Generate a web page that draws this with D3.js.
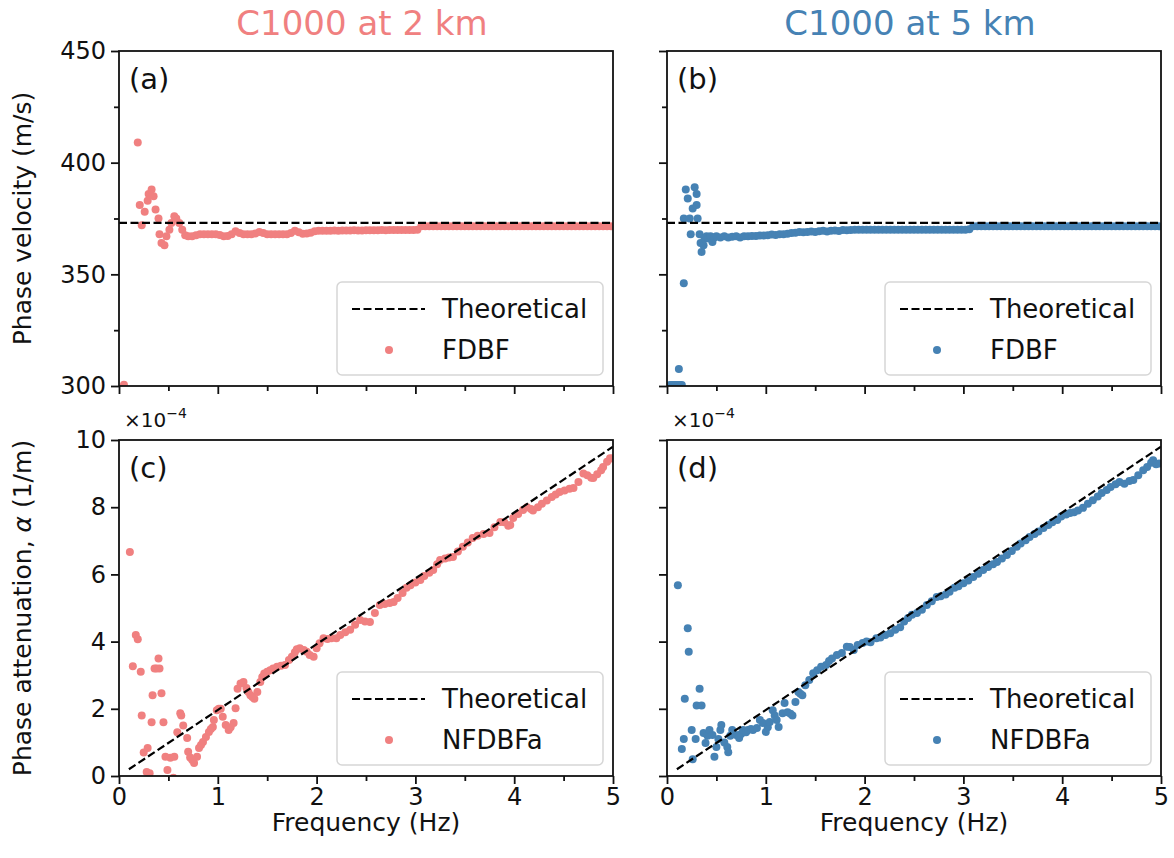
<!DOCTYPE html>
<html>
<head>
<meta charset="utf-8">
<script src="https://cdn.jsdelivr.net/npm/d3@7/dist/d3.min.js"></script>
<style>
  body { margin: 0; background: #fff; }
  svg { font-family: "DejaVu Sans", sans-serif; }
</style>
</head>
<body>
<svg id="fig" width="1174" height="858"></svg>
<script>
// ---- data ----
// phase velocity (m/s), FDBF, [frequency Hz, value]
const fdbf2km = [
  [0.05,300.6],[0.19,409],[0.21,381],[0.23,372],[0.26,378],[0.29,383],[0.30,386],[0.33,388],
  [0.35,385],[0.37,379],[0.40,375],[0.41,368],[0.43,364],[0.46,363],[0.48,367],[0.51,370],
  [0.53,373],[0.56,376],[0.58,375],[0.61,373],[0.64,370],[0.67,367.5],[0.70,367],[0.74,367],
  [0.78,367.5],[0.82,368],[0.86,368],[0.90,368],[0.94,368],[0.98,368],[1.02,367.6],[1.06,367],
  [1.10,367.2],[1.14,368],[1.18,369.3],[1.22,368.5],[1.26,368],[1.30,368],[1.34,368],[1.38,368.3],
  [1.42,369],[1.46,368.5],[1.50,368],[1.54,368],[1.58,368],[1.62,368],[1.66,368],[1.70,368],
  [1.74,368.5],[1.78,369.5],[1.82,368.8],[1.86,368.2],[1.90,368.3],[1.94,368.6],[1.98,369.3],
  [2.02,369.5],[2.06,369.5],[2.10,369.5],[2.14,369.5],[2.18,369.6],[2.22,369.5],[2.26,369.6],
  [2.30,369.6],[2.34,369.6],[2.38,369.7],[2.42,369.6],[2.46,369.6],[2.50,369.7],[2.54,369.7],
  [2.58,369.7],[2.62,369.7],[2.66,369.8],[2.70,369.7],[2.74,369.8],[2.78,369.8],[2.82,369.8],
  [2.86,369.8],[2.90,369.9],[2.94,369.9],[2.98,369.9],[3.02,370],[3.06,371.5],[3.10,371.5],
  [3.14,371.5],[3.18,371.5],[3.22,371.5],[3.26,371.5],[3.30,371.5],[3.34,371.5],[3.38,371.5],
  [3.42,371.5],[3.46,371.5],[3.50,371.5],[3.54,371.5],[3.58,371.5],[3.62,371.5],[3.66,371.5],
  [3.70,371.5],[3.74,371.5],[3.78,371.5],[3.82,371.5],[3.86,371.5],[3.90,371.5],[3.94,371.5],
  [3.98,371.5],[4.02,371.5],[4.06,371.5],[4.10,371.5],[4.14,371.5],[4.18,371.5],[4.22,371.5],
  [4.26,371.5],[4.30,371.5],[4.34,371.5],[4.38,371.5],[4.42,371.5],[4.46,371.5],[4.50,371.5],
  [4.54,371.5],[4.58,371.5],[4.62,371.5],[4.66,371.5],[4.70,371.5],[4.74,371.5],[4.78,371.5],
  [4.82,371.5],[4.86,371.5],[4.90,371.5],[4.94,371.5],[4.98,371.5]
];
const fdbf5km = [
  [0.03,300.4],[0.05,300.4],[0.07,300.4],[0.09,300.4],[0.11,300.4],[0.13,300.4],[0.15,300.4],
  [0.12,307.6],[0.17,346],[0.17,375],[0.19,388],[0.21,384],[0.23,375],[0.24,368],[0.26,379.5],
  [0.28,389],[0.30,386],[0.30,381],[0.31,375],[0.33,368],[0.34,364],[0.35,360],[0.37,363],
  [0.38,366],[0.40,367],[0.42,366],[0.44,367],[0.46,364.5],[0.48,366.5],[0.50,367],[0.54,366.5],
  [0.58,367],[0.62,366.5],[0.66,366.8],[0.70,367],[0.74,366.5],[0.78,367],[0.82,367],[0.86,367.2],
  [0.90,367.2],[0.94,367.4],[0.98,367.4],[1.02,367.5],[1.06,367.8],[1.10,367.6],[1.14,367.9],
  [1.18,368],[1.22,368.2],[1.26,368.5],[1.30,368.6],[1.34,369],[1.38,368.8],[1.42,369],[1.46,369.2],
  [1.50,369],[1.54,369.3],[1.58,369.5],[1.62,369.2],[1.66,369.5],[1.70,369.6],[1.74,369.4],
  [1.78,369.8],[1.82,369.7],[1.86,369.8],[1.90,370],[1.94,370],[1.98,370],[2.02,370],[2.06,370],
  [2.10,370],[2.14,370],[2.18,370],[2.22,370],[2.26,370],[2.30,370],[2.34,370],[2.38,370],
  [2.42,370],[2.46,370],[2.50,370],[2.54,370],[2.58,370],[2.62,370],[2.66,370],[2.70,370],
  [2.74,370],[2.78,370],[2.82,370],[2.86,370],[2.90,370],[2.94,370],[2.98,370],[3.02,370],
  [3.06,370.2],[3.10,371.5],[3.14,371.5],[3.18,371.5],[3.22,371.5],[3.26,371.5],[3.30,371.5],
  [3.34,371.5],[3.38,371.5],[3.42,371.5],[3.46,371.5],[3.50,371.5],[3.54,371.5],[3.58,371.5],
  [3.62,371.5],[3.66,371.5],[3.70,371.5],[3.74,371.5],[3.78,371.5],[3.82,371.5],[3.86,371.5],
  [3.90,371.5],[3.94,371.5],[3.98,371.5],[4.02,371.5],[4.06,371.5],[4.10,371.5],[4.14,371.5],
  [4.18,371.5],[4.22,371.5],[4.26,371.5],[4.30,371.5],[4.34,371.5],[4.38,371.5],[4.42,371.5],
  [4.46,371.5],[4.50,371.5],[4.54,371.5],[4.58,371.5],[4.62,371.5],[4.66,371.5],[4.70,371.5],
  [4.74,371.5],[4.78,371.5],[4.82,371.5],[4.86,371.5],[4.90,371.5],[4.94,371.5],[4.98,371.5]
];
// phase attenuation, NFDBFa, in units of 1e-4 1/m
const nfdbfa2km = [
  [0.11,6.67],[0.14,3.27],[0.17,4.2],[0.19,4.07],[0.22,3.1],[0.23,1.8],[0.25,0.7],[0.28,0.12],
  [0.29,0.83],[0.31,0.08],[0.33,1.6],[0.34,2.4],[0.36,3.2],[0.38,3.2],[0.40,3.5],[0.41,3.2],
  [0.43,2.46],[0.45,1.6],[0.47,0.57],[0.49,0.18],[0.52,0.54],[0.55,-0.05],[0.56,0.57],[0.59,1.3],
  [0.62,1.87],[0.63,1.8],[0.65,1.5],[0.69,1.13],[0.70,0.72],[0.72,0.55],[0.74,0.48],[0.76,0.39],
  [0.79,0.57],[0.81,0.83],[0.83,0.92],[0.85,1.01],[0.88,1.16],[0.91,1.31],[0.93,1.4],[0.95,1.46],
  [0.96,1.67],[0.99,1.96],[1.01,2.0],[1.03,2.0],[1.05,1.76],[1.08,1.52],[1.11,1.37],[1.13,1.45],
  [1.16,1.58],[1.18,2.02],[1.20,2.6],[1.23,2.75],[1.26,2.8],[1.29,2.62],[1.31,2.5],[1.33,2.4],
  [1.35,2.35],[1.37,2.3],[1.40,2.5],[1.43,2.8],[1.45,2.95],[1.47,3.05],[1.50,3.1],[1.53,3.15],
  [1.56,3.2],[1.60,3.25],[1.64,3.28],[1.68,3.3],[1.72,3.45],[1.75,3.55],[1.78,3.68],[1.80,3.77],
  [1.83,3.8],[1.87,3.75],[1.90,3.7],[1.93,3.6],[1.97,3.55],[2.00,3.8],[2.03,3.95],[2.07,4.1],
  [2.11,4.08],[2.15,4.1],[2.20,4.1],[2.24,4.2],[2.29,4.28],[2.34,4.35],[2.39,4.5],[2.44,4.64],
  [2.49,4.6],[2.54,4.58],[2.59,4.85],[2.64,5.09],[2.69,5.12],[2.74,5.15],[2.78,5.18],[2.82,5.3],
  [2.87,5.45],[2.91,5.6],[2.95,5.68],[3.00,5.76],[3.05,5.83],[3.09,5.95],[3.14,6.05],[3.18,6.13],
  [3.22,6.3],[3.25,6.43],[3.30,6.47],[3.34,6.5],[3.38,6.52],[3.43,6.68],[3.48,6.82],[3.53,6.95],
  [3.58,7.08],[3.63,7.15],[3.69,7.2],[3.75,7.23],[3.80,7.4],[3.86,7.56],[3.90,7.55],[3.94,7.45],
  [3.96,7.47],[3.99,7.68],[4.04,7.8],[4.09,7.92],[4.13,8.0],[4.17,7.95],[4.19,7.9],[4.24,8.0],
  [4.28,8.1],[4.33,8.2],[4.38,8.3],[4.42,8.38],[4.46,8.45],[4.51,8.5],[4.56,8.55],[4.60,8.57],
  [4.65,8.75],[4.70,9.0],[4.74,8.95],[4.78,8.88],[4.80,8.87],[4.84,8.98],[4.88,9.1],[4.90,9.2],
  [4.94,9.35],[4.97,9.46],[4.99,9.45]
];
const nfdbfa5km = [
  [0.11,5.68],[0.15,0.8],[0.17,1.1],[0.18,2.3],[0.21,4.4],[0.22,3.7],[0.25,1.37],[0.26,0.5],
  [0.29,1.1],[0.30,2.1],[0.33,2.6],[0.35,2.1],[0.37,1.28],[0.39,0.98],[0.41,1.2],[0.43,1.37],
  [0.46,1.22],[0.48,0.57],[0.50,0.86],[0.52,1.1],[0.54,1.37],[0.55,1.52],[0.58,1.0],[0.61,0.86],
  [0.62,0.71],[0.64,1.2],[0.66,1.37],[0.70,1.22],[0.73,1.13],[0.75,1.25],[0.77,1.37],[0.80,1.3],
  [0.82,1.37],[0.85,1.4],[0.87,1.37],[0.91,1.43],[0.94,1.67],[0.97,1.58],[1.00,1.31],[1.02,1.45],
  [1.04,1.61],[1.07,1.96],[1.09,1.8],[1.11,1.67],[1.13,1.46],[1.17,1.87],[1.19,2.17],[1.22,1.9],
  [1.25,1.85],[1.27,1.8],[1.30,2.2],[1.33,2.5],[1.35,2.45],[1.37,2.4],[1.40,2.7],[1.44,2.86],
  [1.48,3.06],[1.52,3.15],[1.56,3.25],[1.61,3.3],[1.64,3.42],[1.67,3.5],[1.72,3.6],[1.77,3.66],
  [1.82,3.85],[1.85,3.84],[1.89,3.75],[1.93,3.9],[1.98,3.96],[2.02,4.0],[2.06,3.98],[2.12,4.1],
  [2.16,4.12],[2.21,4.2],[2.26,4.25],[2.31,4.35],[2.36,4.43],[2.40,4.6],[2.44,4.7],[2.48,4.8],
  [2.53,4.85],[2.58,4.95],[2.63,5.09],[2.68,5.2],[2.73,5.33],[2.77,5.35],[2.82,5.4],[2.86,5.48],
  [2.91,5.6],[2.95,5.65],[3.00,5.74],[3.05,5.82],[3.10,5.92],[3.15,6.02],[3.20,6.13],[3.25,6.22],
  [3.30,6.3],[3.34,6.37],[3.39,6.47],[3.44,6.58],[3.49,6.7],[3.54,6.82],[3.58,6.92],[3.63,7.02],
  [3.67,7.11],[3.72,7.2],[3.76,7.28],[3.81,7.38],[3.86,7.47],[3.90,7.55],[3.95,7.62],[3.99,7.72],
  [4.04,7.78],[4.08,7.83],[4.12,7.85],[4.16,7.9],[4.21,7.98],[4.26,8.1],[4.31,8.21],[4.36,8.32],
  [4.40,8.42],[4.45,8.51],[4.49,8.6],[4.54,8.68],[4.58,8.75],[4.63,8.7],[4.68,8.78],[4.72,8.81],
  [4.77,8.95],[4.82,9.1],[4.86,9.2],[4.90,9.32],[4.92,9.4],[4.95,9.28],[4.98,9.3]
];
// theoretical curves
const theoVel = [[0, 373], [5, 373]];
const theoAtt = [[0.1, 0.2], [5, 9.8]];

// tick values
const freqTicks = [0, 1, 2, 3, 4, 5];
const freqMinor = [0.5, 1.5, 2.5, 3.5, 4.5];
const velTicks = [300, 350, 400, 450];
const velMinor = [325, 375, 425];
const attTicks = [0, 2, 4, 6, 8, 10];

const titles = ['C1000 at 2 km', 'C1000 at 5 km'];
const colors = ['#f08080', '#4682b4'];

// ---- layout ----
const svg = d3.select('#fig');
svg.append('rect').attr('width', 1174).attr('height', 858).attr('fill', '#fff');

const colX = [[119, 613], [667, 1161]];
const rowVel = [386, 51],
  rowAtt = [776, 440];
const ink = '#111';
const tickFont = 24;
const labelFont = 25;

const panels = [
  { id: 'a', col: 0, row: 'vel', data: fdbf2km, theo: theoVel, name: 'FDBF' },
  { id: 'b', col: 1, row: 'vel', data: fdbf5km, theo: theoVel, name: 'FDBF' },
  { id: 'c', col: 0, row: 'att', data: nfdbfa2km, theo: theoAtt, name: 'NFDBFa' },
  { id: 'd', col: 1, row: 'att', data: nfdbfa5km, theo: theoAtt, name: 'NFDBFa' },
];

const defs = svg.append('defs');

panels.forEach((p) => {
  const x = d3.scaleLinear().domain([0, 5]).range(colX[p.col]);
  const y =
    p.row === 'vel'
      ? d3.scaleLinear().domain([300, 450]).range(rowVel)
      : d3.scaleLinear().domain([0, 10]).range(rowAtt);
  const [x0, x1] = x.range();
  const [y0, y1] = y.range(); // y0 bottom, y1 top
  const g = svg.append('g');

  defs
    .append('clipPath')
    .attr('id', `clip-${p.id}`)
    .append('rect')
    .attr('x', x0)
    .attr('y', y1)
    .attr('width', x1 - x0)
    .attr('height', y0 - y1);

  const plot = g.append('g').attr('clip-path', `url(#clip-${p.id})`);

  // points
  plot
    .selectAll('circle')
    .data(p.data)
    .join('circle')
    .attr('cx', (d) => x(d[0]))
    .attr('cy', (d) => y(d[1]))
    .attr('r', 4)
    .attr('fill', colors[p.col]);

  // theoretical
  plot
    .append('path')
    .attr('d', d3.line().x((d) => x(d[0])).y((d) => y(d[1]))(p.theo))
    .attr('fill', 'none')
    .attr('stroke', '#000')
    .attr('stroke-width', 2.2)
    .attr('stroke-dasharray', '8,3.5');

  // axes
  const showX = p.row === 'att';
  const showY = p.col === 0;
  const xAxis = d3
    .axisBottom(x)
    .tickValues(freqTicks)
    .tickSize(8)
    .tickPadding(4)
    .tickFormat(showX ? d3.format('d') : '');
  const xMinor = d3.axisBottom(x).tickValues(freqMinor).tickSize(5).tickFormat('');
  const yAxis = d3
    .axisLeft(y)
    .tickValues(p.row === 'vel' ? velTicks : attTicks)
    .tickSize(8)
    .tickPadding(5)
    .tickFormat(showY ? d3.format('d') : '');

  [
    g.append('g').attr('transform', `translate(0,${y0})`).call(xAxis),
    g.append('g').attr('transform', `translate(0,${y0})`).call(xMinor),
    g.append('g').attr('transform', `translate(${x0},0)`).call(yAxis),
  ].forEach((a) => a.call(styleAxis));
  if (p.row === 'vel') {
    g.append('g')
      .attr('transform', `translate(${x0},0)`)
      .call(d3.axisLeft(y).tickValues(velMinor).tickSize(5).tickFormat(''))
      .call(styleAxis);
  }

  // frame
  g.append('rect')
    .attr('x', x0)
    .attr('y', y1)
    .attr('width', x1 - x0)
    .attr('height', y0 - y1)
    .attr('fill', 'none')
    .attr('stroke', ink)
    .attr('stroke-width', 1.8);

  // panel tag
  g.append('text')
    .attr('x', x0 + 10)
    .attr('y', y1 + 38)
    .attr('font-size', 29)
    .attr('fill', ink)
    .text(`(${p.id})`);

  // offset text
  if (p.row === 'att') {
    const t = g
      .append('text')
      .attr('x', x0 + 5)
      .attr('y', y1 - 13)
      .attr('font-size', 20)
      .attr('fill', ink);
    t.append('tspan').text('×10');
    t.append('tspan').attr('font-size', 14).attr('dy', -9).text('−4');
  }

  // legend
  const lx = x1 - 276,
    ly = y0 - 104;
  const lg = g.append('g').attr('transform', `translate(${lx},${ly})`);
  lg.append('rect')
    .attr('width', 266)
    .attr('height', 93)
    .attr('rx', 5)
    .attr('fill', '#fff')
    .attr('fill-opacity', 0.8)
    .attr('stroke', '#d6d6d6')
    .attr('stroke-width', 1.5);
  lg.append('line')
    .attr('x1', 15)
    .attr('x2', 88)
    .attr('y1', 27)
    .attr('y2', 27)
    .attr('stroke', '#000')
    .attr('stroke-width', 2.2)
    .attr('stroke-dasharray', '8,3.5');
  lg.append('circle').attr('cx', 52).attr('cy', 68).attr('r', 4).attr('fill', colors[p.col]);
  lg.append('text')
    .attr('x', 105)
    .attr('y', 36)
    .attr('font-size', 26)
    .attr('fill', ink)
    .text('Theoretical');
  lg.append('text')
    .attr('x', 105)
    .attr('y', 77)
    .attr('font-size', 26)
    .attr('fill', ink)
    .text(p.name);

  if (showX) {
    g.append('text')
      .attr('x', (x0 + x1) / 2)
      .attr('y', 831)
      .attr('text-anchor', 'middle')
      .attr('font-size', labelFont)
      .attr('fill', ink)
      .text('Frequency (Hz)');
  }
});

function styleAxis(a) {
  a.select('.domain').remove();
  a.selectAll('.tick line').attr('stroke', ink).attr('stroke-width', 1.8);
  a.selectAll('.tick text')
    .attr('fill', ink)
    .attr('font-size', tickFont)
    .attr('font-family', '"DejaVu Sans", sans-serif');
}

// column titles
titles.forEach((t, i) => {
  svg
    .append('text')
    .attr('x', (colX[i][0] + colX[i][1]) / 2 - 4)
    .attr('y', 35)
    .attr('text-anchor', 'middle')
    .attr('font-size', 34)
    .attr('fill', colors[i])
    .text(t);
});

// y labels
svg
  .append('text')
  .attr('transform', `translate(31,${(rowVel[0] + rowVel[1]) / 2}) rotate(-90)`)
  .attr('text-anchor', 'middle')
  .attr('font-size', labelFont)
  .attr('fill', ink)
  .text('Phase velocity (m/s)');
const yl = svg
  .append('text')
  .attr('transform', `translate(31,${(rowAtt[0] + rowAtt[1]) / 2}) rotate(-90)`)
  .attr('text-anchor', 'middle')
  .attr('font-size', labelFont)
  .attr('fill', ink);
yl.append('tspan').text('Phase attenuation, ');
yl.append('tspan').attr('font-style', 'italic').text('α');
yl.append('tspan').text(' (1/m)');
</script>
</body>
</html>
